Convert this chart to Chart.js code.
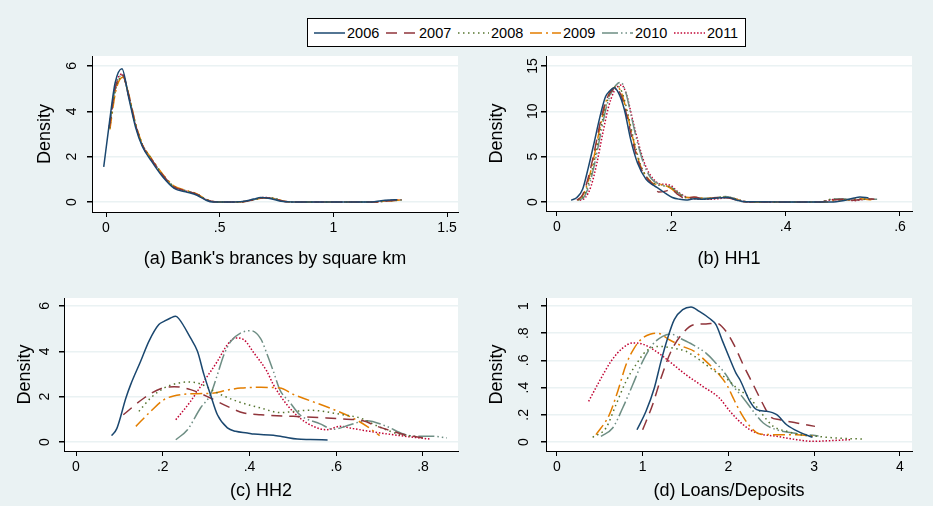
<!DOCTYPE html>
<html>
<head>
<meta charset="utf-8">
<script src="https://cdn.jsdelivr.net/npm/chart.js@4.4.1/dist/chart.umd.min.js"></script>
<style>
body { margin: 0; background: #eaf2f3; }
#wrap { position: relative; width: 933px; height: 506px; background: #eaf2f3; font-family: "Liberation Sans", Arial, sans-serif; overflow: hidden; }
#wrap canvas.panel { position: absolute; }
#legend { position: absolute; left: 307px; top: 18px; width: 437px; height: 27px; background: #fff; border: 1px solid #000; }
.item { position: absolute; top: 0; height: 27px; display: flex; align-items: center; font-size: 14.5px; color: #000; }
.item canvas { margin-right: 2px; }
</style>
</head>
<body>
<div id="wrap">
  <div id="legend"></div>
  <canvas id="pa" class="panel" width="466" height="230" style="left:0;top:50px"></canvas>
  <canvas id="pb" class="panel" width="467" height="230" style="left:466px;top:50px"></canvas>
  <canvas id="pc" class="panel" width="466" height="226" style="left:0;top:280px"></canvas>
  <canvas id="pd" class="panel" width="467" height="226" style="left:466px;top:280px"></canvas>
</div>
<script>
const years = ['2006', '2007', '2008', '2009', '2010', '2011'];
const colors = ['#1a476f', '#90353b', '#55752f', '#e37e00', '#6e8e84', '#c10534'];
const dashes = [[], [11, 7], [1.5, 3.5], [12, 4, 2, 4], [16, 3, 1.5, 3, 1.5, 3], [1.5, 1.8]];

// (a) branches by square km, [x, density]
const branches2006 = [[-0.01,1.55],[0.015,3.5],[0.04,5.25],[0.07,5.88],[0.1,4.6],[0.13,3.3],[0.16,2.45],[0.2,1.8],[0.25,1.1],[0.3,0.6],[0.35,0.45],[0.4,0.3],[0.44,0.08],[0.47,0],[0.55,0],[0.6,0.02],[0.65,0.13],[0.68,0.2],[0.72,0.16],[0.77,0.03],[0.82,0],[1.0,0],[1.17,0],[1.21,0.06],[1.25,0.09],[1.28,0.1]];
const branches2007 = [[0.015,3.3],[0.04,5.0],[0.072,5.6],[0.1,4.7],[0.13,3.4],[0.16,2.5],[0.2,1.88],[0.25,1.18],[0.3,0.66],[0.35,0.5],[0.4,0.34],[0.44,0.1],[0.48,0.01],[0.55,0],[0.6,0.01],[0.65,0.1],[0.69,0.19],[0.73,0.17],[0.78,0.03],[0.83,0],[1.0,0],[1.18,0],[1.22,0.04],[1.26,0.07],[1.3,0.1]];
const branches2008 = [[0.016,3.25],[0.042,4.95],[0.073,5.55],[0.1,4.72],[0.13,3.45],[0.16,2.55],[0.2,1.9],[0.25,1.2],[0.3,0.68],[0.35,0.5],[0.4,0.35],[0.44,0.12],[0.48,0.01],[0.55,0],[0.6,0.01],[0.65,0.1],[0.69,0.18],[0.73,0.18],[0.78,0.04],[0.83,0],[1.0,0],[1.18,0],[1.22,0.03],[1.26,0.06],[1.3,0.09]];
const branches2009 = [[0.017,3.2],[0.043,4.9],[0.074,5.5],[0.1,4.75],[0.13,3.45],[0.16,2.55],[0.2,1.92],[0.25,1.22],[0.3,0.7],[0.35,0.52],[0.4,0.36],[0.44,0.12],[0.48,0.01],[0.55,0],[0.6,0.01],[0.65,0.09],[0.69,0.18],[0.73,0.17],[0.78,0.04],[0.83,0],[1.0,0],[1.18,0],[1.22,0.03],[1.27,0.07],[1.31,0.1]];
const branches2010 = [[0.015,3.3],[0.041,5.05],[0.072,5.6],[0.1,4.68],[0.13,3.4],[0.16,2.5],[0.2,1.88],[0.25,1.17],[0.3,0.65],[0.35,0.5],[0.4,0.34],[0.44,0.11],[0.48,0.01],[0.55,0],[0.6,0.01],[0.65,0.1],[0.69,0.19],[0.73,0.17],[0.78,0.03],[0.83,0],[1.0,0],[1.18,0],[1.22,0.04],[1.26,0.07],[1.3,0.09]];
const branches2011 = [[0.015,3.35],[0.041,5.1],[0.071,5.65],[0.1,4.66],[0.13,3.38],[0.16,2.5],[0.2,1.87],[0.25,1.16],[0.3,0.64],[0.35,0.49],[0.4,0.33],[0.44,0.1],[0.48,0.01],[0.55,0],[0.6,0.01],[0.65,0.11],[0.69,0.2],[0.73,0.17],[0.78,0.03],[0.83,0],[1.0,0],[1.18,0],[1.22,0.04],[1.26,0.08],[1.3,0.1]];

// (b) HH1
const hh1_2006 = [[0.025,0.2],[0.035,0.5],[0.045,1.4],[0.055,3.8],[0.065,6.5],[0.075,9.3],[0.085,11.6],[0.092,12.2],[0.1,12.6],[0.108,12.0],[0.118,10.2],[0.129,6.9],[0.141,4.3],[0.156,2.5],[0.17,1.8],[0.18,1.4],[0.19,0.95],[0.202,0.5],[0.215,0.3],[0.226,0.22],[0.24,0.35],[0.255,0.3],[0.28,0.45],[0.3,0.5],[0.315,0.2],[0.33,0.02],[0.4,0],[0.48,0],[0.5,0.15],[0.52,0.45],[0.53,0.55],[0.545,0.45]];
const hh1_2007 = [[0.035,0.2],[0.045,0.8],[0.055,2.7],[0.065,5.4],[0.075,8.5],[0.085,11.0],[0.095,12.2],[0.103,12.5],[0.112,11.8],[0.122,9.6],[0.133,6.6],[0.145,4.0],[0.158,2.6],[0.17,1.8],[0.178,1.1],[0.19,1.2],[0.2,1.4],[0.21,0.9],[0.225,0.4],[0.24,0.55],[0.26,0.3],[0.28,0.5],[0.3,0.45],[0.32,0.1],[0.34,0],[0.46,0],[0.48,0.2],[0.5,0.3],[0.52,0.2],[0.54,0.35],[0.555,0.3]];
const hh1_2008 = [[0.037,0.2],[0.047,0.7],[0.057,2.4],[0.067,5.0],[0.077,8.2],[0.087,10.9],[0.097,12.3],[0.106,12.8],[0.114,12.1],[0.124,9.8],[0.135,6.7],[0.147,4.0],[0.16,2.5],[0.172,2.0],[0.185,1.8],[0.197,1.7],[0.21,1.1],[0.225,0.5],[0.24,0.45],[0.26,0.35],[0.29,0.55],[0.31,0.4],[0.33,0.05],[0.35,0],[0.46,0],[0.48,0.3],[0.5,0.25],[0.53,0.3],[0.555,0.3]];
const hh1_2009 = [[0.036,0.2],[0.046,0.8],[0.056,2.6],[0.066,5.3],[0.076,8.4],[0.086,11.1],[0.096,12.4],[0.104,12.7],[0.112,12.2],[0.122,10.0],[0.133,7.0],[0.145,4.2],[0.158,2.7],[0.17,2.0],[0.185,1.9],[0.197,1.6],[0.21,1.0],[0.225,0.5],[0.24,0.5],[0.26,0.4],[0.29,0.5],[0.31,0.35],[0.33,0.03],[0.35,0],[0.47,0],[0.49,0.2],[0.51,0.25],[0.53,0.35],[0.55,0.25]];
const hh1_2010 = [[0.038,0.2],[0.048,0.6],[0.058,2.2],[0.068,4.8],[0.078,8.0],[0.088,10.8],[0.098,12.4],[0.107,13.1],[0.112,13.2],[0.12,12.2],[0.13,9.5],[0.14,6.8],[0.152,4.2],[0.165,2.6],[0.178,2.0],[0.19,1.8],[0.2,1.6],[0.212,1.0],[0.228,0.5],[0.245,0.4],[0.27,0.45],[0.295,0.6],[0.31,0.4],[0.325,0.05],[0.34,0],[0.46,0],[0.48,0.3],[0.5,0.35],[0.52,0.2],[0.54,0.3],[0.56,0.3]];
const hh1_2011 = [[0.04,0.2],[0.05,0.5],[0.06,1.8],[0.07,4.3],[0.08,7.5],[0.09,10.4],[0.1,12.2],[0.108,12.8],[0.113,12.9],[0.122,11.8],[0.132,9.2],[0.143,6.4],[0.155,4.0],[0.168,2.6],[0.18,2.0],[0.19,1.95],[0.2,1.8],[0.21,1.2],[0.225,0.6],[0.24,0.35],[0.26,0.3],[0.28,0.35],[0.3,0.5],[0.315,0.3],[0.33,0.02],[0.35,0],[0.46,0],[0.48,0.25],[0.5,0.3],[0.52,0.15],[0.54,0.3],[0.555,0.3]];

// (c) HH2
const hh2_2006 = [[0.082,0.28],[0.094,0.59],[0.115,1.94],[0.126,2.53],[0.149,3.56],[0.168,4.44],[0.191,5.18],[0.203,5.32],[0.218,5.47],[0.23,5.54],[0.237,5.44],[0.264,4.59],[0.28,4.0],[0.295,2.97],[0.31,2.09],[0.326,1.2],[0.349,0.62],[0.368,0.47],[0.395,0.4],[0.41,0.35],[0.455,0.3],[0.48,0.22],[0.51,0.13],[0.54,0.11],[0.58,0.09]];
const hh2_2007 = [[0.109,1.2],[0.157,1.94],[0.195,2.35],[0.226,2.44],[0.264,2.31],[0.31,1.94],[0.349,1.57],[0.387,1.28],[0.426,1.2],[0.501,1.13],[0.578,1.06],[0.624,1.0],[0.66,0.95],[0.693,0.7],[0.731,0.47],[0.762,0.3],[0.8,0.18]];
const hh2_2008 = [[0.145,1.35],[0.172,1.94],[0.203,2.38],[0.234,2.59],[0.257,2.65],[0.287,2.56],[0.326,2.16],[0.372,1.79],[0.426,1.5],[0.47,1.3],[0.539,1.4],[0.616,1.2],[0.655,1.06],[0.693,0.72],[0.747,0.33],[0.78,0.25]];
const hh2_2009 = [[0.138,0.69],[0.172,1.35],[0.203,1.87],[0.241,2.09],[0.28,2.13],[0.314,2.15],[0.349,2.29],[0.38,2.38],[0.426,2.41],[0.47,2.38],[0.501,2.1],[0.524,1.93],[0.586,1.49],[0.64,1.04],[0.67,0.7],[0.7,0.28]];
const hh2_2010 = [[0.23,0.1],[0.257,0.54],[0.287,1.5],[0.31,2.09],[0.326,2.97],[0.341,3.85],[0.357,4.44],[0.38,4.81],[0.403,4.91],[0.426,4.55],[0.44,3.9],[0.455,3.12],[0.47,2.3],[0.493,1.75],[0.516,1.2],[0.563,0.8],[0.593,0.56],[0.632,0.76],[0.67,0.94],[0.716,0.69],[0.755,0.35],[0.785,0.25],[0.824,0.25],[0.855,0.18]];
const hh2_2011 = [[0.23,0.98],[0.264,1.79],[0.295,2.68],[0.326,3.56],[0.349,4.29],[0.368,4.59],[0.387,4.51],[0.41,3.93],[0.44,3.12],[0.455,2.53],[0.486,1.65],[0.516,1.06],[0.547,0.69],[0.578,0.54],[0.609,0.69],[0.639,0.59],[0.678,0.47],[0.731,0.32],[0.778,0.21],[0.816,0.13]];

// (d) Loans/Deposits
const ld2006 = [[0.933,0.09],[1.038,0.226],[1.135,0.397],[1.213,0.593],[1.291,0.765],[1.368,0.9],[1.466,0.973],[1.563,0.993],[1.66,0.96],[1.776,0.91],[1.854,0.863],[1.932,0.74],[2.01,0.62],[2.087,0.507],[2.134,0.458],[2.25,0.299],[2.329,0.238],[2.445,0.226],[2.562,0.201],[2.678,0.127],[2.834,0.071],[2.98,0.035]];
const ld2007 = [[0.999,0.09],[1.115,0.274],[1.213,0.47],[1.33,0.667],[1.466,0.8],[1.602,0.863],[1.738,0.868],[1.854,0.875],[1.971,0.814],[2.06,0.72],[2.172,0.568],[2.289,0.421],[2.406,0.274],[2.484,0.189],[2.6,0.164],[2.795,0.14],[3.009,0.115]];
const ld2008 = [[0.416,0.035],[0.571,0.103],[0.688,0.274],[0.805,0.446],[0.921,0.569],[1.038,0.667],[1.193,0.703],[1.349,0.691],[1.504,0.667],[1.66,0.605],[1.815,0.532],[1.971,0.47],[2.095,0.397],[2.25,0.324],[2.367,0.226],[2.523,0.115],[2.678,0.079],[2.834,0.054],[3.028,0.042],[3.261,0.029],[3.572,0.022]];
const ld2009 = [[0.455,0.054],[0.61,0.2],[0.708,0.372],[0.805,0.568],[0.901,0.691],[0.999,0.765],[1.096,0.794],[1.174,0.8],[1.31,0.752],[1.466,0.703],[1.602,0.667],[1.738,0.593],[1.893,0.495],[1.99,0.41],[2.05,0.33],[2.134,0.226],[2.25,0.115],[2.367,0.059],[2.562,0.054],[2.795,0.054],[3.009,0.042]];
const ld2010 = [[0.513,0.042],[0.649,0.103],[0.766,0.25],[0.883,0.421],[0.999,0.593],[1.115,0.716],[1.232,0.777],[1.33,0.794],[1.427,0.765],[1.582,0.716],[1.738,0.654],[1.854,0.58],[1.971,0.495],[2.056,0.41],[2.172,0.324],[2.289,0.226],[2.406,0.14],[2.562,0.09],[2.757,0.066],[2.99,0.049],[3.05,0.045]];
const ld2011 = [[0.369,0.299],[0.494,0.446],[0.63,0.593],[0.766,0.691],[0.883,0.728],[0.999,0.72],[1.155,0.667],[1.31,0.593],[1.504,0.495],[1.699,0.41],[1.893,0.324],[2.017,0.226],[2.172,0.127],[2.329,0.066],[2.562,0.042],[2.795,0.017],[2.99,0.005],[3.184,0.01],[3.417,0.017]];

// tick values and labels
const aXTicks = [0, 0.5, 1, 1.5], aXLabels = ['0', '.5', '1', '1.5'];
const aYTicks = [0, 2, 4, 6], aYLabels = ['0', '2', '4', '6'];
const bXTicks = [0, 0.2, 0.4, 0.6], bXLabels = ['0', '.2', '.4', '.6'];
const bYTicks = [0, 5, 10, 15], bYLabels = ['0', '5', '10', '15'];
const cXTicks = [0, 0.2, 0.4, 0.6, 0.8], cXLabels = ['0', '.2', '.4', '.6', '.8'];
const cYTicks = [0, 2, 4, 6], cYLabels = ['0', '2', '4', '6'];
const dXTicks = [0, 1, 2, 3, 4], dXLabels = ['0', '1', '2', '3', '4'];
const dYTicks = [0, 0.2, 0.4, 0.6, 0.8, 1], dYLabels = ['0', '.2', '.4', '.6', '.8', '1'];

Chart.defaults.font.family = '"Liberation Sans", Arial, sans-serif';
Chart.defaults.color = '#000';

// white plot region
const plotBg = {
    id: 'plotBg',
    beforeDraw(chart) {
        const a = chart.chartArea;
        chart.ctx.save();
        chart.ctx.fillStyle = '#fff';
        chart.ctx.fillRect(a.left, a.top, a.right - a.left, a.bottom - a.top);
        chart.ctx.restore();
    }
};

// Stata style vertical y labels
const yTickLabels = {
    id: 'yTickLabels',
    afterDraw(chart, args, opts) {
        const ctx = chart.ctx;
        const s = chart.scales.y;
        ctx.save();
        ctx.font = '14px "Liberation Sans", Arial, sans-serif';
        ctx.fillStyle = '#000';
        ctx.textAlign = 'center';
        ctx.textBaseline = 'middle';
        s.ticks.forEach((t, i) => {
            ctx.save();
            ctx.translate(chart.chartArea.left - opts.offset, s.getPixelForValue(t.value));
            ctx.rotate(-Math.PI / 2);
            ctx.fillText(opts.labels[i], 0, 0);
            ctx.restore();
        });
        ctx.restore();
    }
};

function makePanel(id, series, p)
{
    const datasets = series.map((pts, i) => ({
        label: years[i],
        data: pts.map(d => ({x: d[0], y: d[1]})),
        showLine: true,
        pointRadius: 0,
        borderWidth: 1.5,
        borderColor: colors[i],
        borderDash: dashes[i],
        cubicInterpolationMode: 'monotone',
        fill: false
    }));

    return new Chart(document.getElementById(id), {
        type: 'scatter',
        data: {datasets: datasets},
        plugins: [plotBg, yTickLabels],
        options: {
            responsive: false,
            animation: false,
            layout: {padding: {top: p.top, right: p.right, bottom: 0, left: 0}},
            plugins: {
                legend: {display: false},
                tooltip: {enabled: false},
                yTickLabels: {offset: p.yLabelOffset, labels: p.yLabels}
            },
            scales: {
                x: {
                    type: 'linear',
                    min: p.xMin, max: p.xMax,
                    afterBuildTicks: s => { s.ticks = p.xTicks.map(v => ({value: v})); },
                    afterFit: s => { s.height = p.bottom; },
                    ticks: {
                        callback: (v, i) => p.xLabels[i],
                        font: {size: 14},
                        color: '#000',
                        padding: 3,
                        autoSkip: false,
                        maxRotation: 0
                    },
                    grid: {drawOnChartArea: false, tickLength: 5, tickColor: '#000'},
                    border: {color: '#000', width: 1},
                    title: {display: true, text: p.title, font: {size: 18}, color: '#000', padding: {top: 0, bottom: p.titlePad}}
                },
                y: {
                    type: 'linear',
                    min: p.yMin, max: p.yMax,
                    afterBuildTicks: s => { s.ticks = p.yTicks.map(v => ({value: v})); },
                    afterFit: s => { s.width = p.left; },
                    ticks: {display: false},
                    grid: {color: '#eaf2f3', lineWidth: 1.5, tickLength: 5, tickColor: '#000'},
                    border: {color: '#000', width: 1},
                    title: {display: true, text: 'Density', font: {size: 18}, color: '#000', padding: {top: p.yTitlePad, bottom: 0}}
                }
            }
        }
    });
}

makePanel('pa', [branches2006, branches2007, branches2008, branches2009, branches2010, branches2011], {
    title: "(a) Bank's brances by square km",
    xMin: -0.0616, xMax: 1.548, yMin: -0.44, yMax: 6.44,
    xTicks: aXTicks, xLabels: aXLabels, yTicks: aYTicks, yLabels: aYLabels,
    top: 6, right: 8, left: 92, bottom: 68, titlePad: 10, yTitlePad: 34, yLabelOffset: 20
});

makePanel('pb', [hh1_2006, hh1_2007, hh1_2008, hh1_2009, hh1_2010, hh1_2011], {
    title: '(b) HH1',
    xMin: -0.019, xMax: 0.621, yMin: -0.99, yMax: 16.1,
    xTicks: bXTicks, xLabels: bXLabels, yTicks: bYTicks, yLabels: bYLabels,
    top: 6, right: 21, left: 80, bottom: 69, titlePad: 10, yTitlePad: 20, yLabelOffset: 13
});

makePanel('pc', [hh2_2006, hh2_2007, hh2_2008, hh2_2009, hh2_2010, hh2_2011], {
    title: '(c) HH2',
    xMin: -0.0277, xMax: 0.8807, yMin: -0.397, yMax: 6.35,
    xTicks: cXTicks, xLabels: cXLabels, yTicks: cYTicks, yLabels: cYLabels,
    top: 18, right: 8, left: 64, bottom: 55, titlePad: 4, yTitlePad: 14, yLabelOffset: 19
});

makePanel('pd', [ld2006, ld2007, ld2008, ld2009, ld2010, ld2011], {
    title: '(d) Loans/Deposits',
    xMin: -0.128, xMax: 4.14, yMin: -0.066, yMax: 1.059,
    xTicks: dXTicks, xLabels: dXLabels, yTicks: dYTicks, yLabels: dYLabels,
    top: 18, right: 21, left: 80, bottom: 55, titlePad: 4, yTitlePad: 20, yLabelOffset: 22
});

// legend row
const legend = document.getElementById('legend');
years.forEach((yr, i) => {
    const item = document.createElement('div');
    item.className = 'item';
    item.style.left = (6 + 72 * i) + 'px';
    const c = document.createElement('canvas');
    c.width = 31;
    c.height = 10;
    const g = c.getContext('2d');
    g.strokeStyle = colors[i];
    g.lineWidth = 1.5;
    g.setLineDash(dashes[i]);
    g.beginPath();
    g.moveTo(0, 5);
    g.lineTo(31, 5);
    g.stroke();
    item.appendChild(c);
    const sp = document.createElement('span');
    sp.textContent = yr;
    item.appendChild(sp);
    legend.appendChild(item);
});
</script>
</body>
</html>
